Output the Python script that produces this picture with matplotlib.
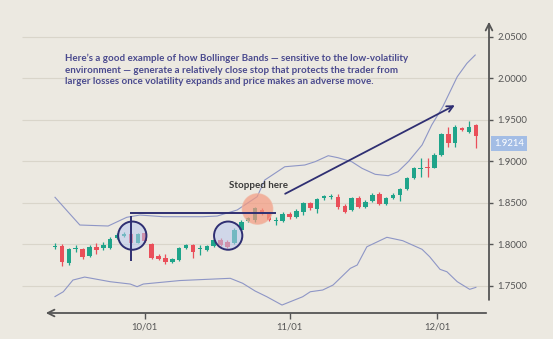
import matplotlib
matplotlib.use("Agg")
import matplotlib.pyplot as plt
from matplotlib.patches import Ellipse

# === Дані свічок (індекс = торговий день) ===
opens = [1.7964, 1.7980, 1.7767, 1.7943, 1.7936, 1.7859, 1.7967, 1.7948, 1.7955, 1.8069,
         1.8096, 1.8117, 1.8016, 1.8129, 1.7996, 1.7855, 1.7828, 1.7787, 1.7807, 1.7955,
         1.7988, 1.7940, 1.7928, 1.7980, 1.8048, 1.8028, 1.8008, 1.8169, 1.8277, 1.8289,
         1.8410, 1.8361, 1.8277, 1.8277, 1.8361, 1.8329, 1.8382, 1.8490, 1.8418, 1.8551,
         1.8572, 1.8570, 1.8458, 1.8410, 1.8558, 1.8449, 1.8518, 1.8599, 1.8478, 1.8551,
         1.8590, 1.8663, 1.8792, 1.8904, 1.8931, 1.8919, 1.9072, 1.9322, 1.9213, 1.9401,
         1.9353, 1.9434]
closes = [1.7972, 1.7787, 1.7936, 1.7955, 1.7840, 1.7967, 1.7928, 1.7988, 1.8057, 1.8108,
          1.8120, 1.8016, 1.8117, 1.8036, 1.7835, 1.7819, 1.7787, 1.7819, 1.7948, 1.7988,
          1.7907, 1.7952, 1.7980, 1.8048, 1.7988, 1.7967, 1.8169, 1.8269, 1.8310, 1.8430,
          1.8370, 1.8295, 1.8289, 1.8361, 1.8322, 1.8398, 1.8490, 1.8430, 1.8539, 1.8578,
          1.8578, 1.8449, 1.8389, 1.8558, 1.8449, 1.8510, 1.8590, 1.8478, 1.8551, 1.8590,
          1.8663, 1.8799, 1.8912, 1.8919, 1.8912, 1.9072, 1.9322, 1.9213, 1.9413, 1.9373,
          1.9413, 1.9305]
highs = [1.8016, 1.7996, 1.7952, 1.7988, 1.7948, 1.7988, 1.8008, 1.8028, 1.8088, 1.8129,
         1.8141, 1.8129, 1.8129, 1.8141, 1.8008, 1.7876, 1.7876, 1.7835, 1.7967, 1.7996,
         1.7996, 1.7988, 1.7988, 1.8069, 1.8069, 1.8048, 1.8189, 1.8289, 1.8329, 1.8449,
         1.8430, 1.8386, 1.8329, 1.8382, 1.8382, 1.8418, 1.8506, 1.8502, 1.8554, 1.8590,
         1.8602, 1.8599, 1.8478, 1.8570, 1.8578, 1.8526, 1.8611, 1.8623, 1.8566, 1.8611,
         1.8678, 1.8811, 1.8928, 1.9033, 1.9033, 1.9093, 1.9337, 1.9413, 1.9434, 1.9410,
         1.9482, 1.9446]
lows = [1.7936, 1.7739, 1.7747, 1.7907, 1.7816, 1.7847, 1.7876, 1.7928, 1.7940, 1.8057,
        1.8084, 1.8008, 1.8008, 1.8024, 1.7819, 1.7807, 1.7755, 1.7775, 1.7795, 1.7940,
        1.7835, 1.7867, 1.7916, 1.7960, 1.7976, 1.7955, 1.7996, 1.8157, 1.8261, 1.8269,
        1.8349, 1.8277, 1.8229, 1.8265, 1.8301, 1.8310, 1.8349, 1.8410, 1.8370, 1.8536,
        1.8542, 1.8422, 1.8370, 1.8398, 1.8434, 1.8437, 1.8506, 1.8466, 1.8470, 1.8542,
        1.8518, 1.8651, 1.8780, 1.8811, 1.8811, 1.8912, 1.9060, 1.9172, 1.9172, 1.9367,
        1.9337, 1.9153]

# === Смуги Боллінджера (зчитані точки) ===
upper_x = [0, 1.9, 3.6, 7.7, 10.4, 12.3, 15.7, 21.4, 23.5, 26.4, 29.3, 30.4, 33.3, 36.2,
           37.7, 39.6, 41.0, 43.0, 44.5, 46.4, 48.3, 49.7, 51.2, 53.2, 54.6, 56.2, 58.3,
           59.7, 60.9]
upper_y = [1.8563, 1.8386, 1.8229, 1.8217, 1.8322, 1.8349, 1.8329, 1.8329, 1.8337, 1.8410,
           1.8570, 1.8771, 1.8931, 1.8952, 1.8992, 1.9064, 1.9040, 1.8992, 1.8912, 1.8840,
           1.8823, 1.8871, 1.8992, 1.9193, 1.9434, 1.9654, 2.0016, 2.0177, 2.0277]
lower_x = [0, 1.2, 2.6, 4.3, 8.0, 10.9, 11.9, 12.8, 18.1, 25.4, 27.2, 29.0, 30.7, 32.9,
           35.9, 37.0, 38.8, 40.3, 42.8, 43.8, 45.2, 48.1, 50.4, 53.2, 54.3, 55.8, 56.8,
           58.3, 60.1, 61.0]
lower_y = [1.7367, 1.7425, 1.7566, 1.7602, 1.7546, 1.7518, 1.7486, 1.7518, 1.7560, 1.7587,
           1.7527, 1.7434, 1.7365, 1.7265, 1.7365, 1.7425, 1.7446, 1.7506, 1.7707, 1.7747,
           1.7967, 1.8081, 1.8040, 1.7936, 1.7847, 1.7695, 1.7666, 1.7546, 1.7454, 1.7478]

price_ticks = [1.75, 1.80, 1.85, 1.90, 1.95, 2.00, 2.05]
date_ticks = [13, 34, 55.4]
date_labels = ["10/01", "11/01", "12/01"]
last_price = "1.9214"

note = ("Here\u2019s a good example of how Bollinger Bands \u2014 sensitive to the low-volatility\n"
        "environment \u2014 generate a relatively close stop that protects the trader from\n"
        "larger losses once volatility expands and price makes an adverse move.")

BG = "#ece9e1"
GREEN = "#1fa48a"
RED = "#ea4f5a"
NAVY = "#2f2f72"
AXC = "#555555"

fig = plt.figure(figsize=(5.53, 3.39), dpi=100, facecolor=BG)
ax = fig.add_axes([43 / 553, 26 / 339, 446 / 553, 294 / 339])
ax.set_facecolor(BG)
ax.set_xlim(-1.74, 62.9)
ax.set_ylim(1.7169, 2.0711)
for s in ax.spines.values():
    s.set_visible(False)

# сітка
ax.hlines(price_ticks, -4.8, 62.9, color="#d9d5ca", lw=0.8, clip_on=False, zorder=0)

# осі зі стрілками
ax.annotate("", xy=(0, 0), xytext=(1, 0), xycoords="axes fraction",
            arrowprops=dict(arrowstyle="->", color=AXC, lw=1.3, mutation_scale=12))
ax.annotate("", xy=(1, 1), xytext=(1, 0.035), xycoords="axes fraction",
            arrowprops=dict(arrowstyle="->", color=AXC, lw=1.3, mutation_scale=12))

ax.yaxis.tick_right()
ax.set_yticks(price_ticks)
ax.set_yticklabels([f"{p:.4f}" for p in price_ticks])
ax.tick_params(axis="y", direction="out", length=3, width=1, color=AXC, labelcolor=AXC,
               labelsize=6.8, pad=3)
ax.set_xticks(date_ticks)
ax.set_xticklabels(date_labels)
ax.tick_params(axis="x", direction="out", length=4, width=1, color=AXC, labelcolor=AXC,
               labelsize=6.8, pad=3)
for lab in ax.get_xticklabels() + ax.get_yticklabels():
    lab.set_family("Lato")

# смуги
ax.plot(upper_x, upper_y, color="#8e96c6", lw=0.8, zorder=1)
ax.plot(lower_x, lower_y, color="#8e96c6", lw=0.8, zorder=1)

# свічки
for i in range(len(opens)):
    o, c, h, l = opens[i], closes[i], highs[i], lows[i]
    col = GREEN if c >= o else RED
    ax.vlines(i, l, h, color=col, lw=0.9, zorder=2)
    ax.bar(i, max(abs(c - o), 0.0012), bottom=min(o, c), width=0.66, color=col, zorder=3)

# кола та лінії
for cx in (11.2, 25.1):
    ax.add_patch(Ellipse((cx, 1.8101), 4.1, 0.0340, facecolor="#b9c9f0", alpha=0.55,
                         edgecolor="none", zorder=4))
    ax.add_patch(Ellipse((cx, 1.8101), 4.1, 0.0340, facecolor="none", edgecolor=NAVY,
                         lw=1.4, zorder=5))
ax.add_patch(Ellipse((29.35, 1.8422), 4.4, 0.0365, facecolor="#f59a80", alpha=0.7,
                     edgecolor="#f0b19c", lw=1, zorder=4))
ax.hlines(1.8377, 10.9, 32.0, color=NAVY, lw=1.4, zorder=5)
ax.vlines(11.0, 1.7795, 1.8337, color=NAVY, lw=1.4, zorder=5)
ax.annotate("", xy=(58.3, 1.9687), xytext=(33.0, 1.8590),
            arrowprops=dict(arrowstyle="->", color=NAVY, lw=1.3, mutation_scale=11))

# підписи
ax.annotate(last_price, xy=(1.0, 1.9214), xycoords=("axes fraction", "data"),
            xytext=(3.5, 0), textcoords="offset points", va="center", ha="left",
            color="white", fontsize=6.8, family="Lato",
            bbox=dict(boxstyle="square,pad=0.3", fc="#a3bde5", ec="none"))
fig.text(65 / 553, 1 - 54 / 339, note, ha="left", va="top", color="#4a4a8e",
         fontsize=7, fontweight="bold", family="Lato", linespacing=1.32)
fig.text(229 / 553, 1 - 185 / 339, "Stopped here", ha="left", va="center",
         color="#3a3a3a", fontsize=7, fontweight="bold", family="Lato")

fig.savefig("out.png", dpi=100, facecolor=BG)
